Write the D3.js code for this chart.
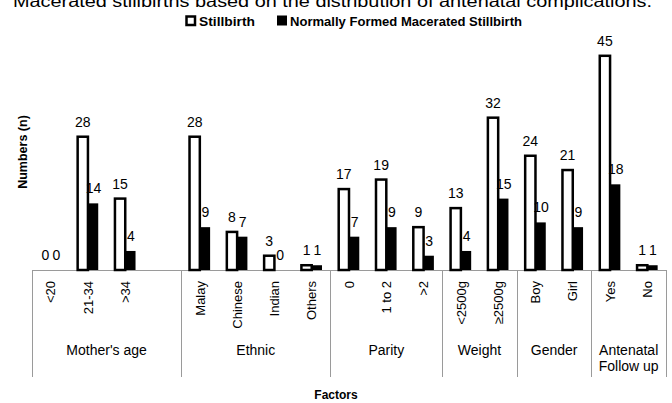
<!DOCTYPE html>
<html>
<head>
<meta charset="utf-8">
<script src="https://cdn.jsdelivr.net/npm/d3@7"></script>
<style>
  html, body { margin: 0; padding: 0; background: #fff; }
  svg { display: block; font-family: "Liberation Sans", Arial, sans-serif; }
</style>
</head>
<body>
<svg id="chart" width="672" height="403"></svg>
<script>
// ---- data ----
const titleText = "Macerated stillbirths based on the distribution of antenatal complications.";
const seriesNames = ["Stillbirth", "Normally Formed Macerated Stillbirth"];
const groups = ["Mother's age", "Ethnic", "Parity", "Weight", "Gender", "Antenatal|Follow up"];
const categories = ["<20", "21-34", ">34", "", "Malay", "Chinese", "Indian", "Others",
                    "0", "1 to 2", ">2", "<2500g", "≥2500g", "Boy", "Girl", "Yes", "No"];
const categoryGroup = [0, 0, 0, 0, 1, 1, 1, 1, 2, 2, 2, 3, 3, 4, 4, 5, 5];
const stillbirth = [0, 28, 15, null, 28, 8, 3, 1, 17, 19, 9, 13, 32, 24, 21, 45, 1];
const macerated  = [0, 14, 4, null, 9, 7, 0, 1, 7, 9, 3, 4, 15, 10, 9, 18, 1];
const yMax = 50;

(function () {
// ---- layout ----
const svg = d3.select("#chart");
const plotLeft = 32, plotRight = 666, base = 270, plotTop = 32;
const keys = categories.map((c, i) => "k" + i);
const x = d3.scaleBand().domain(keys).range([plotLeft, plotRight]).paddingInner(0).paddingOuter(0);
const y = d3.scaleLinear().domain([0, yMax]).range([base, plotTop]);
const bw = x.bandwidth() * 0.276;
const axisColor = "#9a9a9a";

// title (partially cut at top, as in the source figure)
svg.append("text")
  .attr("x", 332.5).attr("y", 7)
  .attr("text-anchor", "middle")
  .attr("font-size", 16)
  .attr("textLength", 639).attr("lengthAdjust", "spacingAndGlyphs")
  .text(titleText);

// legend
const lg = svg.append("g");
lg.append("rect").attr("x", 186.5).attr("y", 16.5).attr("width", 8.5).attr("height", 8.5)
  .attr("fill", "#fff").attr("stroke", "#000").attr("stroke-width", 2.5);
lg.append("text").attr("x", 199).attr("y", 25.5).attr("font-size", 12.5).attr("font-weight", "bold")
  .attr("textLength", 56).attr("lengthAdjust", "spacingAndGlyphs").text(seriesNames[0]);
lg.append("rect").attr("x", 277).attr("y", 15.5).attr("width", 10).attr("height", 10)
  .attr("fill", "#000");
lg.append("text").attr("x", 290).attr("y", 25.5).attr("font-size", 12.5).attr("font-weight", "bold")
  .attr("textLength", 232).attr("lengthAdjust", "spacingAndGlyphs").text(seriesNames[1]);

// rows of data
const rows = categories.map((c, i) => ({ key: keys[i], label: c, s: stillbirth[i], m: macerated[i], g: categoryGroup[i] }));

// baseline
svg.append("line").attr("x1", plotLeft).attr("x2", plotRight).attr("y1", base + 0.5).attr("y2", base + 0.5)
  .attr("stroke", axisColor).attr("stroke-width", 1);

// group separators
const groupBounds = groups.map((g, gi) => {
  const ks = rows.filter(r => r.g === gi).map(r => r.key);
  return { name: g, x0: x(ks[0]), x1: x(ks[ks.length - 1]) + x.bandwidth() };
});
const sepXs = [groupBounds[0].x0].concat(groupBounds.map(b => b.x1));
svg.selectAll("line.sep").data(sepXs).enter().append("line")
  .attr("class", "sep")
  .attr("x1", d => Math.round(d) + 0.5).attr("x2", d => Math.round(d) + 0.5)
  .attr("y1", base).attr("y2", 377)
  .attr("stroke", axisColor).attr("stroke-width", 1);

// bars: stillbirth (white with thick black border)
svg.selectAll("rect.sb").data(rows.filter(r => r.s > 0)).enter().append("rect")
  .attr("class", "sb")
  .attr("x", r => x(r.key) + x.bandwidth() / 2 - bw)
  .attr("width", bw)
  .attr("y", r => y(r.s))
  .attr("height", r => base - y(r.s))
  .attr("fill", "#fff").attr("stroke", "#000").attr("stroke-width", 2.5);

// bars: macerated (black)
svg.selectAll("rect.mb").data(rows.filter(r => r.m > 0)).enter().append("rect")
  .attr("class", "mb")
  .attr("x", r => x(r.key) + x.bandwidth() / 2)
  .attr("width", bw)
  .attr("y", r => y(r.m))
  .attr("height", r => base - y(r.m))
  .attr("fill", "#000");

// value labels
const labelData = [];
rows.forEach(r => {
  if (r.s !== null) labelData.push({ v: r.s, cx: x(r.key) + x.bandwidth() / 2 - bw / 2 });
  if (r.m !== null) labelData.push({ v: r.m, cx: x(r.key) + x.bandwidth() / 2 + bw / 2 + 0.5 });
});
svg.selectAll("text.val").data(labelData).enter().append("text")
  .attr("class", "val")
  .attr("x", d => d.cx)
  .attr("y", d => y(d.v) - 10)
  .attr("text-anchor", "middle")
  .attr("font-size", 14)
  .attr("fill", "#000")
  .text(d => d.v);

// category tick labels (rotated)
svg.selectAll("text.cat").data(rows).enter().append("text")
  .attr("class", "cat")
  .attr("transform", r => `translate(${x(r.key) + x.bandwidth() / 2},281) rotate(-90)`)
  .attr("dy", "0.36em")
  .attr("text-anchor", "end")
  .attr("font-size", 13)
  .attr("fill", "#000")
  .text(r => r.label);

// group labels
groupBounds.forEach(b => {
  const lines = b.name.split("|");
  const t = svg.append("text")
    .attr("text-anchor", "middle")
    .attr("font-size", 14)
    .attr("fill", "#000");
  lines.forEach((ln, li) => {
    t.append("tspan").attr("x", (b.x0 + b.x1) / 2).attr("y", 355 + li * 16).text(ln);
  });
});

// axis titles
svg.append("text")
  .attr("transform", "translate(27,152) rotate(-90)")
  .attr("text-anchor", "middle")
  .attr("font-size", 12.5).attr("font-weight", "bold")
  .text("Numbers (n)");
svg.append("text")
  .attr("x", 336).attr("y", 399)
  .attr("text-anchor", "middle")
  .attr("font-size", 12).attr("font-weight", "bold")
  .text("Factors");
})();
</script>
</body>
</html>
